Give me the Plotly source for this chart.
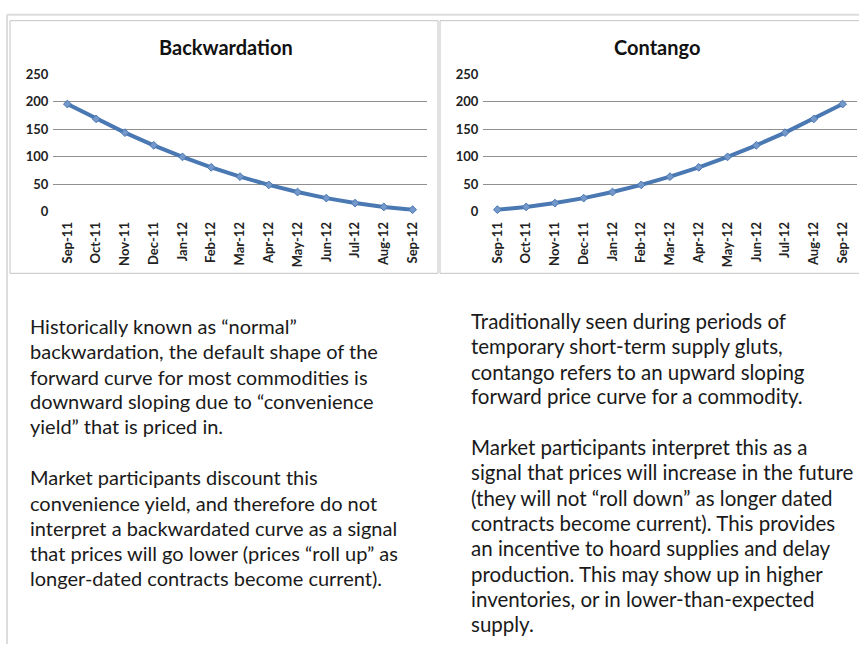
import plotly.graph_objects as go

W, H = 859, 652

months = ["Sep-11", "Oct-11", "Nov-11", "Dec-11", "Jan-12", "Feb-12", "Mar-12",
          "Apr-12", "May-12", "Jun-12", "Jul-12", "Aug-12", "Sep-12"]
backwardation = [196, 169, 144, 121, 100, 81, 64, 49, 36, 25, 16, 9, 4]
contango = [4, 9, 16, 25, 36, 49, 64, 81, 100, 121, 144, 169, 196]
y_ticks = [0, 50, 100, 150, 200, 250]

left_text_1 = ["Historically known as \u201cnormal\u201d",
               "backwardation, the default shape of the",
               "forward curve for most commodities is",
               "downward sloping due to \u201cconvenience",
               "yield\u201d that is priced in."]
left_text_2 = ["Market participants discount this",
               "convenience yield, and therefore do not",
               "interpret a backwardated curve as a signal",
               "that prices will go lower (prices \u201croll up\u201d as",
               "longer-dated contracts become current)."]
right_text_1 = ["Traditionally seen during periods of",
                "temporary short-term supply gluts,",
                "contango refers to an upward sloping",
                "forward price curve for a commodity."]
right_text_2 = ["Market participants interpret this as a",
                "signal that prices will increase in the future",
                "(they will not \u201croll down\u201d as longer dated",
                "contracts become current). This provides",
                "an incentive to hoard supplies and delay",
                "production. This may show up in higher",
                "inventories, or in lower-than-expected",
                "supply."]

FONT = "Lato"
LINE = "#4a78b2"
MARK = "#7398c9"


def px(x):
    return x / W


def py(y):
    return 1 - y / H


fig = go.Figure()
for i, vals in enumerate([backwardation, contango]):
    fig.add_trace(go.Scatter(
        x=months, y=vals, mode="lines+markers",
        line=dict(color=LINE, width=4),
        marker=dict(symbol="diamond", size=6, color=MARK,
                    line=dict(color=LINE, width=1)),
        xaxis="x" if i == 0 else "x2", yaxis="y" if i == 0 else "y2",
        showlegend=False, cliponaxis=False))

ydom = [py(209), py(68)]
common_x = dict(type="category", range=[-0.5, 12.5], showgrid=False,
                showline=False, zeroline=False, tickangle=-90,
                tickfont=dict(family=FONT, size=13, color="#222", weight="bold"),
                ticks="outside", ticklen=4, tickcolor="rgba(0,0,0,0)",
                fixedrange=True)
common_y = dict(range=[0, 250], tickvals=y_ticks, showgrid=True,
                gridcolor="#8f8f8f", gridwidth=1, zeroline=False, showline=False,
                tickfont=dict(family=FONT, size=13, color="#222", weight="bold"),
                ticks="outside", ticklen=1, tickcolor="rgba(0,0,0,0)",
                fixedrange=True)

fig.update_layout(
    width=W, height=H, margin=dict(l=0, r=0, t=0, b=0),
    paper_bgcolor="white", plot_bgcolor="white",
    xaxis=dict(domain=[px(53), px(427)], anchor="y", **common_x),
    yaxis=dict(domain=ydom, anchor="x", **common_y),
    xaxis2=dict(domain=[px(483), px(857)], anchor="y2", **common_x),
    yaxis2=dict(domain=ydom, anchor="x2", **common_y),
)

shapes = [
    dict(type="line", xref="paper", yref="paper", x0=px(7), x1=1, y0=py(7), y1=py(7),
         line=dict(color="#dcdcdc", width=2)),
    dict(type="line", xref="paper", yref="paper", x0=px(7), x1=px(7), y0=py(7), y1=0,
         line=dict(color="#dcdcdc", width=2)),
    dict(type="rect", xref="paper", yref="paper", x0=px(10), x1=px(438), y0=py(272), y1=py(13),
         line=dict(color="#c4c4c4", width=1)),
    dict(type="rect", xref="paper", yref="paper", x0=px(440), x1=px(875), y0=py(272), y1=py(13),
         line=dict(color="#c4c4c4", width=1)),
]
fig.update_layout(shapes=shapes)

annotations = [
    dict(text="<b>Backwardation</b>", x=px(226), y=py(40), xref="paper", yref="paper",
         showarrow=False, xanchor="center", yanchor="middle",
         font=dict(family=FONT, size=20, color="#111")),
    dict(text="<b>Contango</b>", x=px(657), y=py(40), xref="paper", yref="paper",
         showarrow=False, xanchor="center", yanchor="middle",
         font=dict(family=FONT, size=20, color="#111")),
]


def add_lines(lines, x, ys, size):
    for t, y in zip(lines, ys):
        annotations.append(dict(text=t, x=px(x), y=py(y), xref="paper", yref="paper",
                                showarrow=False, xanchor="left", yanchor="middle",
                                font=dict(family=FONT, size=size, color="#1a1a1a")))


add_lines(left_text_1, 28, [326, 352, 378, 403, 429], 20)
add_lines(left_text_2, 28, [481, 507, 533, 559, 584], 20)
add_lines(right_text_1, 469, [321, 347, 373, 398], 20.5)
add_lines(right_text_2, 469, [450, 476, 502, 528, 554, 580, 606, 632], 20.5)
fig.update_layout(annotations=annotations)

fig.write_html("out.html", config={"displayModeBar": False},
               post_script="document.body.style.margin='0px';")
